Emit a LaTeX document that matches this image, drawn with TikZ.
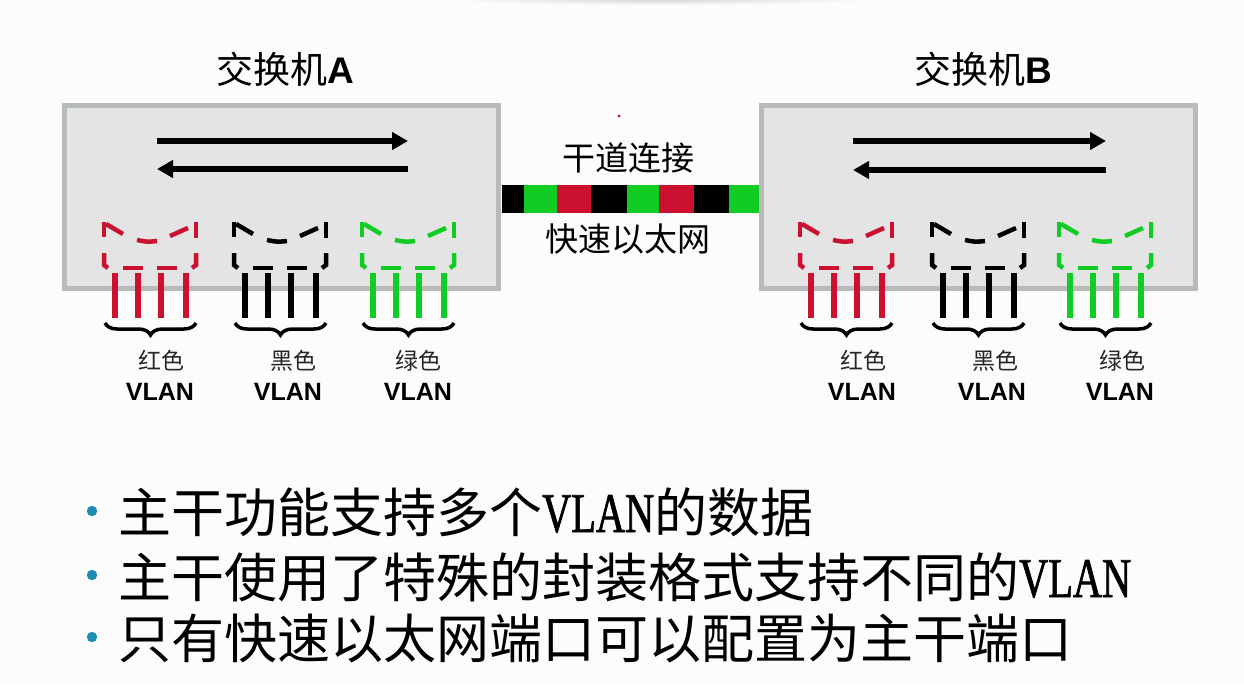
\documentclass[tikz,border=0pt]{standalone}
\usepackage{fontspec}
\newfontfamily\cjk{Noto Sans CJK SC}
\newfontfamily\sansb{Liberation Sans}
\newfontfamily\vlanf[FakeStretch=0.72,FakeBold=1.2]{Liberation Serif}
\usetikzlibrary{arrows.meta,decorations.pathreplacing}
\definecolor{vred}{HTML}{CC1030}
\definecolor{vgreen}{HTML}{11CC22}
\definecolor{boxfill}{HTML}{E4E4E4}
\definecolor{boxedge}{HTML}{B8BCB8}
\definecolor{bulletc}{HTML}{1E8DB4}
\definecolor{bgc}{HTML}{FCFCFC}
\tikzset{
  swbox/.style={draw=boxedge, fill=boxfill, line width=5pt},
  flow/.style={line width=5.5pt, -{Triangle[length=16pt,width=17pt]}},
  outl/.style={line width=4.5pt},
  port/.style={line width=5.5pt},
  brc/.style={decorate, decoration={brace, mirror, amplitude=12pt}, line width=3.5pt},
  cname/.style={font=\cjk\fontsize{23}{23}\selectfont, text=black!85, anchor=base, inner sep=0pt},
  vlan/.style={font=\sansb\bfseries\fontsize{25}{25}\selectfont, anchor=base, inner sep=0pt},
  title/.style={font=\fontsize{37}{37}\selectfont, anchor=base, inner sep=0pt},
  trunklbl/.style={font=\cjk\fontsize{33}{33}\selectfont, anchor=base, inner sep=0pt},
  bullettext/.style={font=\cjk\fontsize{53}{53}\selectfont, anchor=base west, inner sep=0pt},
  bulletdot/.style={fill=bulletc},
}
\newcommand\vgroup[6]{%
  \begin{scope}[shift={(#1,0)}]
    \draw[outl,#2] (0,222)--(0,237);
    \draw[outl,#2] (2,224)--(19,234);
    \draw[outl,#2] (33,240) .. controls (43,242) .. (53,241);
    \draw[outl,#2] (66,236)--(84,228);
    \draw[outl,#2] (92,222)--(92,238);
    \draw[outl,#2] (0,253)--(0,265)--(4,268);
    \draw[outl,#2] (19,268)--(39,268);
    \draw[outl,#2] (53,268)--(73,268);
    \draw[outl,#2] (92,253)--(92,265)--(88,268);
    \foreach \px in {11,34,57,82} \draw[port,#2] (\px,273)--(\px,318);
    \draw[brc] (1,323)--(92,323);
    \node[cname] (#4c) at (#5,369) {#3};
    \node[vlan] (#4v) at (#6,400) {VLAN};
  \end{scope}}
\begin{document}
\begin{tikzpicture}[x=1pt,y=-1pt]
  \useasboundingbox (0,0) rectangle (1244,685);
  \fill[bgc] (0,0) rectangle (1244,685);
  \shade[inner color=black!15, outer color=bgc] (450,-5) rectangle (870,5);

  % switch boxes
  \draw[swbox] (64.5,105.5) rectangle (498.5,288.5);
  \draw[swbox] (761.5,105.5) rectangle (1195.5,288.5);

  % titles
  \node[title] (ta) at (285,83) {{\cjk 交换机}{\sansb\bfseries A}};
  \node[title] (tb) at (983,83) {{\cjk 交换机}{\sansb\bfseries B}};

  % arrows A
  \coordinate (a1s) at (157,141); \coordinate (a1e) at (408,141);
  \coordinate (a2s) at (408,169); \coordinate (a2e) at (157,169);
  \draw[flow] (a1s) -- (a1e);
  \draw[flow] (a2s) -- (a2e);
  % arrows B
  \coordinate (b1s) at (853,141); \coordinate (b1e) at (1106,141);
  \coordinate (b2s) at (1106,170); \coordinate (b2e) at (853,170);
  \draw[flow] (b1s) -- (b1e);
  \draw[flow] (b2s) -- (b2e);

  % trunk
  \fill[black]  (502,185) rectangle (524,213);
  \fill[vgreen] (524,185) rectangle (557,213);
  \fill[vred]   (557,185) rectangle (591,213);
  \fill[black]  (591,185) rectangle (627,213);
  \fill[vgreen] (627,185) rectangle (659,213);
  \fill[vred]   (659,185) rectangle (694,213);
  \fill[black]  (694,185) rectangle (729,213);
  \fill[vgreen] (729,185) rectangle (759,213);
  \node[trunklbl] (tk) at (628,170) {干道连接};
  \node[trunklbl] (fe) at (628,251) {快速以太网};
  \fill[vred] (619,116) circle (1.6);

  % VLAN groups
  \vgroup{104}{vred}{红色}{ar}{57}{56}
  \vgroup{234}{black}{黑色}{ab}{59}{54}
  \vgroup{362}{vgreen}{绿色}{ag}{56}{56}
  \vgroup{800}{vred}{红色}{br}{63}{62}
  \vgroup{932}{black}{黑色}{bb}{63}{60}
  \vgroup{1059}{vgreen}{绿色}{bg}{63}{61}

  % bullets
  \fill[bulletdot] (92,511) circle (5.2);
  \fill[bulletdot] (92,575) circle (5.2);
  \fill[bulletdot] (92,637) circle (5.2);
  \node[bullettext] (l1) at (118,532) {主干功能支持多个{\vlanf\fontsize{56}{56}\selectfont VLAN}的数据};
  \node[bullettext] (l2) at (118,597) {主干使用了特殊的封装格式支持不同的{\vlanf\fontsize{56}{56}\selectfont VLAN}};
  \node[bullettext] (l3) at (118,658) {只有快速以太网端口可以配置为主干端口};
\end{tikzpicture}
\end{document}
